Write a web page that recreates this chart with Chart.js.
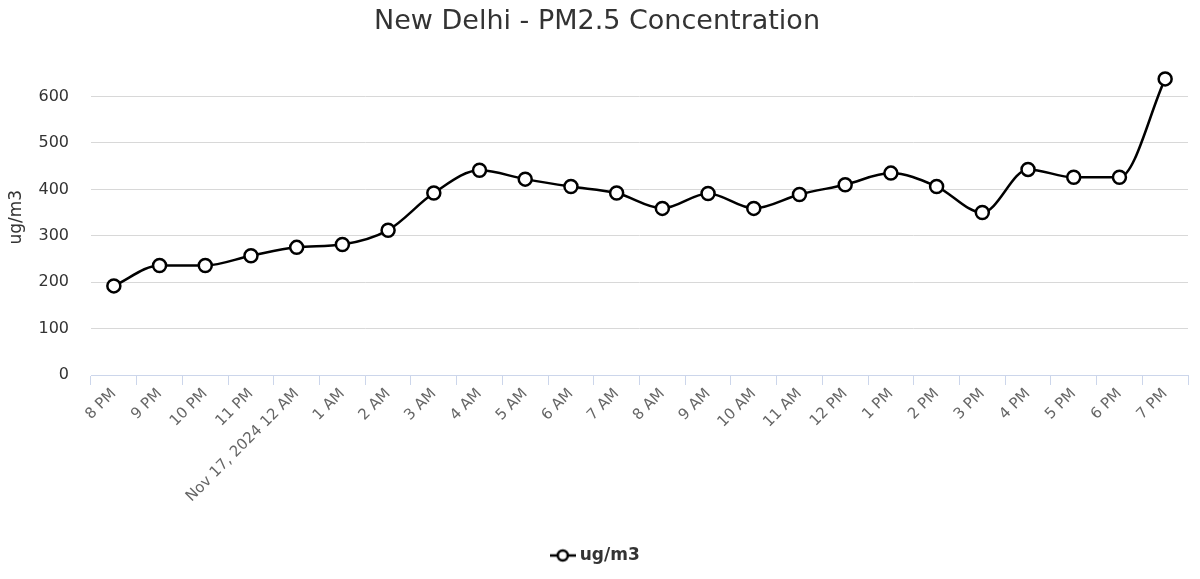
<!DOCTYPE html>
<html>
<head>
<meta charset="utf-8">
<script src="https://cdn.jsdelivr.net/npm/chart.js@4"></script>
<style>
    html, body { margin: 0; padding: 0; background: #fff; }
    #wrap { width: 1200px; height: 579px; }
</style>
</head>
<body>
<div id="wrap"><canvas id="chart"></canvas></div>
<script>
(function () {
    'use strict';

    // Hourly readings, 16 Nov 8 PM -> 17 Nov 7 PM
    var labels = [
        '8 PM', '9 PM', '10 PM', '11 PM', 'Nov 17, 2024 12 AM', '1 AM', '2 AM', '3 AM',
        '4 AM', '5 AM', '6 AM', '7 AM', '8 AM', '9 AM', '10 AM', '11 AM',
        '12 PM', '1 PM', '2 PM', '3 PM', '4 PM', '5 PM', '6 PM', '7 PM'
    ];
    var pm25 = [
        192, 236, 236, 257, 275, 281, 312, 392,
        441, 422, 406, 392, 359, 391, 359, 389,
        410, 435, 406, 350, 443, 426, 426, 638
    ];
    var yTicks = [0, 100, 200, 300, 400, 500, 600];

    var FONT = "'DejaVu Sans', sans-serif";

    // Legend symbol: short line with hollow circle
    function legendSymbol() {
        var c = document.createElement('canvas');
        c.width = 26; c.height = 16;
        var g = c.getContext('2d');
        g.strokeStyle = '#000';
        g.lineWidth = 2.5;
        g.beginPath(); g.moveTo(0, 8); g.lineTo(26, 8); g.stroke();
        g.fillStyle = '#fff';
        g.beginPath(); g.arc(13, 8, 5, 0, Math.PI * 2); g.fill(); g.stroke();
        return c;
    }

    new Chart(document.getElementById('chart'), {
        type: 'line',
        data: {
            labels: labels,
            datasets: [{
                label: 'ug/m3',
                data: pm25,
                borderColor: '#000',
                borderWidth: 2.5,
                cubicInterpolationMode: 'monotone',
                pointRadius: 6.5,
                pointBorderWidth: 2.5,
                pointBackgroundColor: '#fff',
                pointBorderColor: '#000',
                pointStyle: 'circle',
                clip: false,
            }],
        },
        options: {
            responsive: true,
            maintainAspectRatio: false,
            animation: false,
            layout: { padding: { left: 6, right: 12, bottom: 5 } },
            plugins: {
                title: {
                    display: true,
                    text: 'New Delhi - PM2.5 Concentration',
                    color: '#333',
                    font: { family: FONT, size: 27, weight: 'normal' },
                    padding: { top: 6, bottom: 21 },
                },
                legend: {
                    position: 'bottom',
                    labels: {
                        color: '#333',
                        font: { family: FONT, size: 17, weight: 'bold' },
                        usePointStyle: true,
                        generateLabels: function () {
                            return [{
                                text: 'ug/m3',
                                pointStyle: legendSymbol(),
                                fontColor: '#333',
                                datasetIndex: 0,
                            }];
                        },
                    },
                },
                tooltip: { enabled: false },
            },
            scales: {
                x: {
                    offset: true,
                    grid: {
                        offset: true,
                        drawOnChartArea: false,
                        drawTicks: true,
                        tickLength: 10,
                        color: '#ccd6eb',
                    },
                    border: { color: '#ccd6eb' },
                    ticks: {
                        color: '#666',
                        font: { family: FONT, size: 15 },
                        minRotation: 45,
                        maxRotation: 45,
                        autoSkip: false,
                        padding: 0,
                    },
                    afterFit: function (axis) {
                        axis.height = 162;
                        axis.paddingLeft = 0;
                    },
                },
                y: {
                    min: 0,
                    max: 680,
                    afterBuildTicks: function (axis) {
                        axis.ticks = yTicks.map(function (v) { return { value: v }; });
                    },
                    afterFit: function (axis) {
                        axis.width = 85;
                    },
                    grid: { color: '#d8d8d8', drawTicks: false },
                    border: { display: false },
                    ticks: {
                        color: '#333',
                        font: { family: FONT, size: 16 },
                        padding: 22,
                    },
                    title: {
                        display: true,
                        text: 'ug/m3',
                        color: '#333',
                        font: { family: FONT, size: 17 },
                        padding: { top: 0, bottom: 2 },
                    },
                },
            },
        },
    });
})();
</script>
</body>
</html>
